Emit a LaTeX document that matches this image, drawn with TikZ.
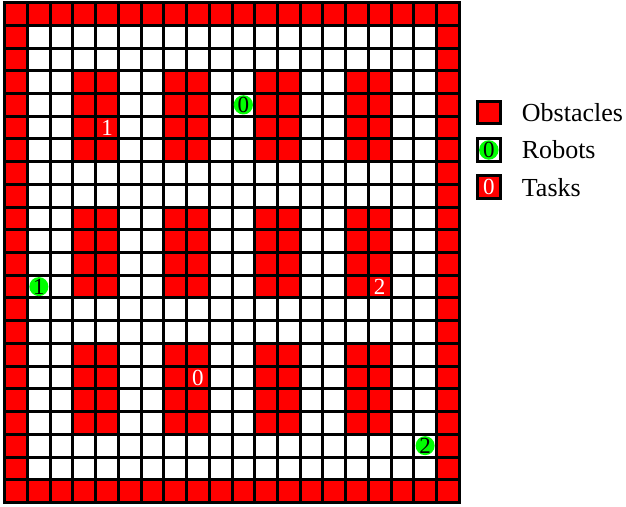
\documentclass[tikz,border=0pt]{standalone}
\usepackage{fontspec}
\setmainfont{Liberation Serif}
\begin{document}
\begin{tikzpicture}[x=1pt,y=-1pt,
  cellw/.style={fill=white,draw=black,line width=3pt},
  cellr/.style={fill=red,draw=black,line width=3pt},
  robot/.style={circle,fill=green,inner sep=0pt,minimum size=18.5pt,font=\fontsize{23}{23}\selectfont,text=black},
  task/.style={inner sep=0pt,font=\fontsize{23}{23}\selectfont,text=white},
  legbox/.style={draw=black,line width=3pt,minimum size=22.7pt,inner sep=0pt},
  legtext/.style={anchor=west,font=\fontsize{26}{26}\selectfont,inner sep=0pt}]
\useasboundingbox (0,0) rectangle (626,506);
\def\cs{22.72}
\def\xo{4.8}
\def\yo{2.6}
% all cells white
\foreach \i in {0,...,19}{
  \foreach \j in {0,...,21}{
    \draw[cellw] ({\xo+\i*\cs},{\yo+\j*\cs}) rectangle ++(\cs,\cs);
  }
}
% border obstacles
\foreach \i in {0,...,19}{
  \draw[cellr] ({\xo+\i*\cs},{\yo}) rectangle ++(\cs,\cs);
  \draw[cellr] ({\xo+\i*\cs},{\yo+21*\cs}) rectangle ++(\cs,\cs);
}
\foreach \j in {1,...,20}{
  \draw[cellr] ({\xo},{\yo+\j*\cs}) rectangle ++(\cs,\cs);
  \draw[cellr] ({\xo+19*\cs},{\yo+\j*\cs}) rectangle ++(\cs,\cs);
}
% obstacle blocks
\foreach \bx in {3,7,11,15}{
  \foreach \by in {3,9,15}{
    \foreach \dx in {0,1}{
      \foreach \dy in {0,...,3}{
        \draw[cellr] ({\xo+(\bx+\dx)*\cs},{\yo+(\by+\dy)*\cs}) rectangle ++(\cs,\cs);
      }
    }
  }
}
% tasks
\node[task] (t0) at ({\xo+8.5*\cs},{\yo+16.5*\cs}) {0};
\node[task] (t1) at ({\xo+4.5*\cs},{\yo+5.5*\cs}) {1};
\node[task] (t2) at ({\xo+16.5*\cs},{\yo+12.5*\cs}) {2};
% robots
\node[robot] (r0) at ({\xo+10.5*\cs},{\yo+4.5*\cs}) {0};
\node[robot] (r1) at ({\xo+1.5*\cs},{\yo+12.5*\cs}) {1};
\node[robot] (r2) at ({\xo+18.5*\cs},{\yo+19.5*\cs}) {2};
% legend
\node[legbox,fill=red] (lo) at (488.8,112.5) {};
\node[legtext] (lot) at (521.7,112.5) {Obstacles};
\node[legbox,fill=white] (lr) at (488.8,150) {};
\node[robot,minimum size=19.5pt] (lrc) at (lr.center) {0};
\node[legtext] (lrt) at (521.7,150) {Robots};
\node[legbox,fill=red] (lt) at (488.8,187.3) {};
\node[task] (ltn) at (lt.center) {0};
\node[legtext] (ltt) at (521.7,187.3) {Tasks};
\end{tikzpicture}
\end{document}
